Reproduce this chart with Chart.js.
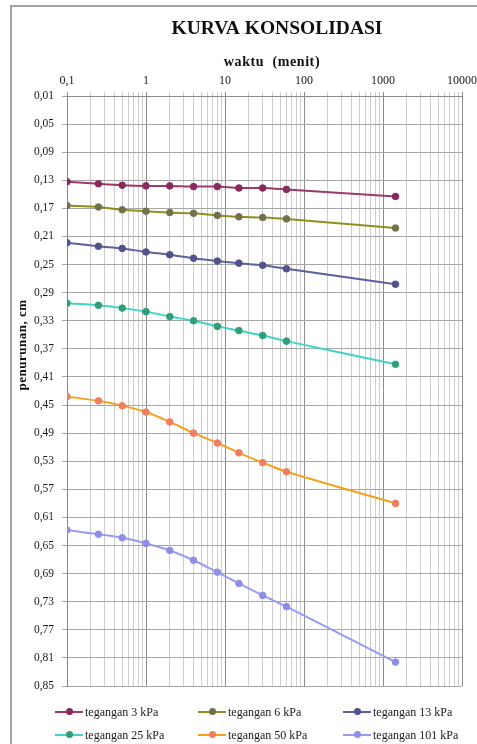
<!DOCTYPE html>
<html>
<head>
<meta charset="utf-8">
<script src="https://cdn.jsdelivr.net/npm/chart.js@4/dist/chart.umd.min.js"></script>
<style>
  html, body { margin: 0; padding: 0; background: #ffffff; overflow: hidden; }
  #wrap { position: relative; width: 477px; height: 744px; }
  #frame { position: absolute; left: 10px; top: 5px; width: 600px; height: 800px;
           border-left: 2px solid #a3a3a3; border-top: 2px solid #a3a3a3; box-sizing: border-box; }
  canvas { position: absolute; left: 0; top: 0; }
  .leg { position: absolute; font-family: "Liberation Serif", serif; font-size: 12px; color: #1a1a1a;
         white-space: nowrap; line-height: 14px; }
  .leg .ln { position: absolute; left: 0; top: 6px; width: 28px; height: 2px; }
  .leg .dt { position: absolute; left: 11px; top: 3px; width: 7px; height: 7px; border-radius: 50%; }
  .leg .tx { position: absolute; left: 30px; top: 0; }
</style>
</head>
<body>
<div id="wrap">
  <div id="frame"></div>
  <canvas id="c" width="477" height="744"></canvas>
  <div id="legend"></div>
</div>
<script>
// waktu (menit)
const timeMinutes = [0.1, 0.25, 0.5, 1, 2, 4, 8, 15, 30, 60, 1440];

// penurunan (cm) per tegangan
const settle3kPa   = [0.132, 0.135, 0.137, 0.138, 0.138, 0.139, 0.139, 0.141, 0.141, 0.143, 0.153];
const settle6kPa   = [0.166, 0.168, 0.172, 0.174, 0.176, 0.177, 0.180, 0.182, 0.183, 0.185, 0.198];
const settle13kPa  = [0.219, 0.224, 0.227, 0.232, 0.236, 0.241, 0.245, 0.248, 0.251, 0.256, 0.278];
const settle25kPa  = [0.305, 0.308, 0.312, 0.317, 0.324, 0.330, 0.338, 0.344, 0.351, 0.359, 0.392];
const settle50kPa  = [0.438, 0.444, 0.451, 0.460, 0.474, 0.490, 0.504, 0.518, 0.532, 0.545, 0.590];
const settle101kPa = [0.628, 0.634, 0.639, 0.647, 0.657, 0.671, 0.688, 0.704, 0.721, 0.737, 0.816];

const seriesNames = ["tegangan 3 kPa", "tegangan 6 kPa", "tegangan 13 kPa",
                     "tegangan 25 kPa", "tegangan 50 kPa", "tegangan 101 kPa"];

// axis ticks
const yTickValues = [0.01, 0.05, 0.09, 0.13, 0.17, 0.21, 0.25, 0.29, 0.33, 0.37, 0.41,
                     0.45, 0.49, 0.53, 0.57, 0.61, 0.65, 0.69, 0.73, 0.77, 0.81, 0.85];
const xDecades = [0.1, 1, 10, 100, 1000, 10000];

const lineColors   = ["#9b3a69", "#8f8f1c", "#5f5f9c", "#40d3cb", "#f5a11e", "#9a9af0"];
const markerColors = ["#8a2a5c", "#70724e", "#52528c", "#2f9f78", "#f07f62", "#8e8eea"];

const allSeries = [settle3kPa, settle6kPa, settle13kPa, settle25kPa, settle50kPa, settle101kPa];

// all grid positions on the log axis: 1..9 times every decade, plus the last decade
const xGridValues = [];
for (let d = 0; d < xDecades.length - 1; d++) {
  for (let m = 1; m <= 9; m++) xGridValues.push(+(xDecades[d] * m).toPrecision(6));
}
xGridValues.push(xDecades[xDecades.length - 1]);

const isDecade = v => xDecades.some(d => Math.abs(d - v) / d < 1e-9);
const commaNum = v => String(v).replace('.', ',');

const datasets = allSeries.map((vals, i) => ({
  label: seriesNames[i],
  data: timeMinutes.map((t, j) => ({ x: t, y: vals[j] })),
  borderColor: lineColors[i],
  backgroundColor: markerColors[i],
  pointBackgroundColor: markerColors[i],
  pointBorderColor: markerColors[i],
  pointBorderWidth: 1,
  pointRadius: 3.3,
  borderWidth: 2,
  tension: 0.3,
  fill: false
}));

const serif = '"Liberation Serif", "Times New Roman", serif';

const titles = {
  id: 'titles',
  afterDraw(chart) {
    const ctx = chart.ctx;
    ctx.save();
    ctx.fillStyle = '#111111';
    ctx.textAlign = 'center';
    ctx.textBaseline = 'middle';
    ctx.font = 'bold 19.5px ' + serif;
    ctx.fillText('KURVA KONSOLIDASI', 277, 29);
    ctx.font = 'bold 14px ' + serif;
    ctx.letterSpacing = '0.6px';
    ctx.fillText('waktu  (menit)', 272, 62);
    ctx.translate(23, 345);
    ctx.rotate(-Math.PI / 2);
    ctx.font = 'bold 13px ' + serif;
    ctx.letterSpacing = '0.5px';
    ctx.fillText('penurunan, cm', 0, 0);
    ctx.restore();
  }
};

new Chart(document.getElementById('c'), {
  type: 'line',
  data: { datasets },
  plugins: [titles],
  options: {
    responsive: false,
    animation: false,
    layout: { padding: { left: 0, right: 15, top: 0, bottom: 58 } },
    plugins: { legend: { display: false }, title: { display: false }, tooltip: { enabled: false } },
    scales: {
      x: {
        type: 'logarithmic',
        position: 'top',
        min: 0.1,
        max: 10000,
        afterBuildTicks: axis => { axis.ticks = xGridValues.map(v => ({ value: v, major: isDecade(v) })); },
        afterFit: axis => { axis.height = 96; axis.paddingLeft = 0; axis.paddingRight = 0; },
        ticks: {
          autoSkip: false,
          maxRotation: 0,
          padding: 4,
          color: '#1a1a1a',
          font: { family: serif, size: 12 },
          callback: v => isDecade(v) ? commaNum(v) : ''
        },
        grid: {
          drawTicks: true,
          tickLength: 4,
          lineWidth: 1,
          color: ctx => (ctx.tick && isDecade(ctx.tick.value)) ? '#8c8c8c' : '#cdcdcd'
        },
        border: { display: true, color: '#8c8c8c' }
      },
      y: {
        type: 'linear',
        reverse: true,
        min: 0.01,
        max: 0.85,
        afterBuildTicks: axis => { axis.ticks = yTickValues.map(v => ({ value: v })); },
        afterFit: axis => { axis.width = 67; axis.paddingTop = 0; axis.paddingBottom = 0; },
        ticks: {
          autoSkip: false,
          padding: 8,
          color: '#1a1a1a',
          font: { family: serif, size: 11.5 },
          callback: v => commaNum(v.toFixed(2))
        },
        grid: { drawTicks: true, tickLength: 5, lineWidth: 1, color: '#a6a6a6' },
        border: { display: true, color: '#868686' }
      }
    }
  }
});

// legend: two rows of three entries
const legendPos = [[55, 705], [198, 705], [343, 705], [55, 728], [198, 728], [343, 728]];
const legendBox = document.getElementById('legend');
seriesNames.forEach((name, i) => {
  const el = document.createElement('div');
  el.className = 'leg';
  el.style.left = legendPos[i][0] + 'px';
  el.style.top = legendPos[i][1] + 'px';
  el.innerHTML = '<span class="ln" style="background:' + lineColors[i] + '"></span>' +
                 '<span class="dt" style="background:' + markerColors[i] + '"></span>' +
                 '<span class="tx">' + name + '</span>';
  legendBox.appendChild(el);
});
</script>
</body>
</html>
